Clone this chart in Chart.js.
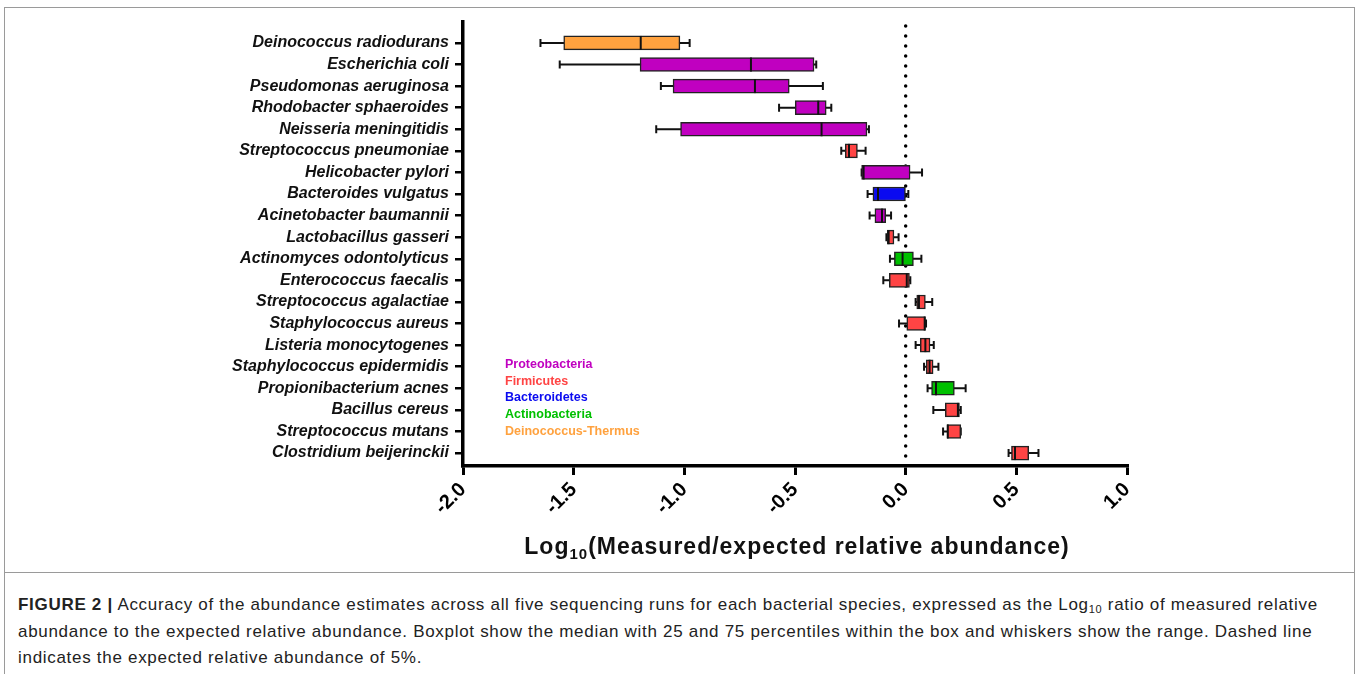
<!DOCTYPE html>
<html>
<head>
<meta charset="utf-8">
<script src="https://cdn.jsdelivr.net/npm/chart.js@4.4.1/dist/chart.umd.min.js"></script>
<style>
  body { margin: 0; background: #fff; font-family: "Liberation Sans", Arial, sans-serif; }
  #fig { position: relative; width: 1358px; height: 674px; overflow: hidden; }
  #frame { position: absolute; left: 4px; top: 7px; width: 1349px; height: 700px; border: 1px solid #9a9a9a; }
  #sep { position: absolute; left: 4px; top: 572px; width: 1350px; height: 0; border-top: 1px solid #9a9a9a; }
  #plot { position: absolute; left: 0; top: 0; width: 1358px; height: 570px; }
  #titreX { position: absolute; top: 533px; left: 0; width: 1594px; text-align: center;
    font-weight: bold; font-size: 23px; letter-spacing: 1px; color: #111; white-space: nowrap; }
  #titreX sub { font-size: 15px; vertical-align: -5px; }
  #legende { position: absolute; left: 505px; top: 356px; font-weight: bold; font-size: 12.5px; line-height: 16.7px; }
  #legende div { white-space: nowrap; }
  #legenda-texto { position: absolute; left: 18px; top: 592px; font-size: 17px; letter-spacing: 0.7px; line-height: 26.5px; color: #222; white-space: nowrap; }
  #legenda-texto sub { font-size: 11px; vertical-align: baseline; position: relative; top: 3px; line-height: 0; }
</style>
</head>
<body>
<div id="fig">
  <div id="frame"></div>
  <div id="sep"></div>
  <div id="plot"><canvas id="graficoBox"></canvas></div>
  <div id="titreX">Log<sub>10</sub>(Measured/expected relative abundance)</div>
  <div id="legende"></div>
  <div id="legenda-texto">
    <b>FIGURE 2 |</b> Accuracy of the abundance estimates across all five sequencing runs for each bacterial species, expressed as the Log<sub>10</sub> ratio of measured relative<br>
    abundance to the expected relative abundance. Boxplot show the median with 25 and 75 percentiles within the box and whiskers show the range. Dashed line<br>
    indicates the expected relative abundance of 5%.
  </div>
</div>

<script>
const especies = [
  'Deinococcus radiodurans', 'Escherichia coli', 'Pseudomonas aeruginosa', 'Rhodobacter sphaeroides',
  'Neisseria meningitidis', 'Streptococcus pneumoniae', 'Helicobacter pylori', 'Bacteroides vulgatus',
  'Acinetobacter baumannii', 'Lactobacillus gasseri', 'Actinomyces odontolyticus', 'Enterococcus faecalis',
  'Streptococcus agalactiae', 'Staphylococcus aureus', 'Listeria monocytogenes', 'Staphylococcus epidermidis',
  'Propionibacterium acnes', 'Bacillus cereus', 'Streptococcus mutans', 'Clostridium beijerinckii'
]
const filos = [
  'Deinococcus-Thermus', 'Proteobacteria', 'Proteobacteria', 'Proteobacteria',
  'Proteobacteria', 'Firmicutes', 'Proteobacteria', 'Bacteroidetes',
  'Proteobacteria', 'Firmicutes', 'Actinobacteria', 'Firmicutes',
  'Firmicutes', 'Firmicutes', 'Firmicutes', 'Firmicutes',
  'Actinobacteria', 'Firmicutes', 'Firmicutes', 'Firmicutes'
]
const minimos  = [-1.650, -1.563, -1.106, -0.572, -1.127, -0.291, -0.199, -0.172, -0.163, -0.087, -0.071, -0.101, 0.045, -0.030, 0.045, 0.083, 0.099, 0.125, 0.169, 0.465]
const q1s      = [-1.545, -1.200, -1.051, -0.499, -1.017, -0.273, -0.199, -0.148, -0.139, -0.083, -0.051, -0.074, 0.050, 0.005, 0.066, 0.093, 0.117, 0.179, 0.188, 0.478]
const medianas = [-1.197, -0.699, -0.681, -0.395, -0.380, -0.256, -0.190, -0.125, -0.107, -0.077, -0.014, 0.005, 0.060, 0.086, 0.089, 0.108, 0.137, 0.236, 0.190, 0.494]
const q3s      = [-1.020, -0.414, -0.526, -0.359, -0.175, -0.218, 0.020, -0.001, -0.090, -0.053, 0.035, 0.017, 0.089, 0.089, 0.110, 0.124, 0.220, 0.243, 0.249, 0.556]
const maximos  = [-0.976, -0.404, -0.374, -0.336, -0.166, -0.181, 0.074, 0.012, -0.066, -0.032, 0.071, 0.021, 0.120, 0.092, 0.127, 0.148, 0.271, 0.249, 0.249, 0.600]
const ticksX = [-2.0, -1.5, -1.0, -0.5, 0.0, 0.5, 1.0]

const coresFilo = {
  'Proteobacteria': '#C000C0',
  'Firmicutes': '#FF4444',
  'Bacteroidetes': '#0A0AF0',
  'Actinobacteria': '#00C000',
  'Deinococcus-Thermus': '#FFA23F'
}
const ordemLegenda = ['Proteobacteria', 'Firmicutes', 'Bacteroidetes', 'Actinobacteria', 'Deinococcus-Thermus']

// whiskers atras das caixas, linha pontilhada no zero
const pluginBigodes = {
  id: 'bigodes',
  beforeDatasetsDraw(chart) {
    const ctx = chart.ctx
    const x = chart.scales.x
    const y = chart.scales.y
    const area = chart.chartArea

    // linha pontilhada em 0
    ctx.save()
    ctx.strokeStyle = '#000'
    ctx.lineWidth = 3.5
    ctx.lineCap = 'round'
    ctx.setLineDash([0, 10])
    ctx.beginPath()
    ctx.moveTo(x.getPixelForValue(0), area.top + 4)
    ctx.lineTo(x.getPixelForValue(0), area.bottom)
    ctx.stroke()
    ctx.restore()

    ctx.save()
    ctx.strokeStyle = '#111'
    ctx.lineWidth = 2
    for (let i = 0; i < especies.length; i++) {
      const py = y.getPixelForValue(i)
      const pMin = x.getPixelForValue(minimos[i])
      const pMax = x.getPixelForValue(maximos[i])
      ctx.beginPath()
      ctx.moveTo(pMin, py)
      ctx.lineTo(pMax, py)
      ctx.moveTo(pMin, py - 4)
      ctx.lineTo(pMin, py + 4)
      ctx.moveTo(pMax, py - 4)
      ctx.lineTo(pMax, py + 4)
      ctx.stroke()
    }
    ctx.restore()
  },
  afterDatasetsDraw(chart) {
    const ctx = chart.ctx
    const x = chart.scales.x
    const y = chart.scales.y
    ctx.save()
    ctx.strokeStyle = '#111'
    ctx.lineWidth = 2
    for (let i = 0; i < especies.length; i++) {
      const py = y.getPixelForValue(i)
      const pMed = x.getPixelForValue(medianas[i])
      ctx.beginPath()
      ctx.moveTo(pMed, py - 7)
      ctx.lineTo(pMed, py + 7)
      ctx.stroke()
    }
    ctx.restore()
  }
}

function graficoBoxplot() {
  const ctxBox = document.getElementById('graficoBox').getContext('2d')

  const dadosCaixas = especies.map((nome, i) => ({ x: [q1s[i], q3s[i]], y: i }))

  const config = {
    type: 'bar',
    data: {
      datasets: [{
        label: 'Caixas',
        data: dadosCaixas,
        backgroundColor: filos.map(f => coresFilo[f]),
        borderColor: '#222',
        borderWidth: 1.5,
        borderSkipped: false,
        barThickness: 14
      }]
    },
    options: {
      indexAxis: 'y',
      responsive: true,
      maintainAspectRatio: false,
      animation: false,
      layout: { padding: { left: 0, right: 231, top: 22, bottom: 0 } },
      plugins: { legend: { display: false }, tooltip: { enabled: false } },
      scales: {
        x: {
          type: 'linear',
          min: -2,
          max: 1,
          afterBuildTicks: (scale) => { scale.ticks = ticksX.map(v => ({ value: v })) },
          afterFit: (scale) => { scale.height = 104 },
          border: { display: true, color: '#000', width: 3.5 },
          grid: { drawOnChartArea: false, drawTicks: true, tickLength: 9, color: '#000', lineWidth: 3 },
          ticks: {
            minRotation: 45,
            maxRotation: 45,
            padding: 3,
            color: '#000',
            font: { family: 'Liberation Sans, Arial', size: 20, weight: 'bold' },
            callback: (v) => Number(v).toFixed(1)
          }
        },
        y: {
          type: 'linear',
          reverse: true,
          offset: false,
          min: -0.97,
          max: 19.6,
          afterBuildTicks: (scale) => { scale.ticks = especies.map((e, i) => ({ value: i })) },
          afterFit: (scale) => { scale.width = 463 },
          border: { display: true, color: '#000', width: 3.5 },
          grid: { offset: false, drawOnChartArea: false, drawTicks: true, tickLength: 8, color: '#000', lineWidth: 2.5 },
          ticks: {
            autoSkip: false,
            padding: 6,
            color: '#111',
            font: { family: 'Liberation Sans, Arial', size: 16, weight: 'bold', style: 'italic' },
            callback: (v) => especies[v]
          }
        }
      }
    },
    plugins: [pluginBigodes]
  }

  new Chart(ctxBox, config)
}

function montarLegenda() {
  const div = document.getElementById('legende')
  let frase = ''
  for (let i = 0; i < ordemLegenda.length; i++) {
    frase += `<div style="color:${coresFilo[ordemLegenda[i]]}">${ordemLegenda[i]}</div>`
  }
  div.innerHTML = frase
}

window.onload = () => {
  montarLegenda()
  graficoBoxplot()
}
</script>
</body>
</html>
